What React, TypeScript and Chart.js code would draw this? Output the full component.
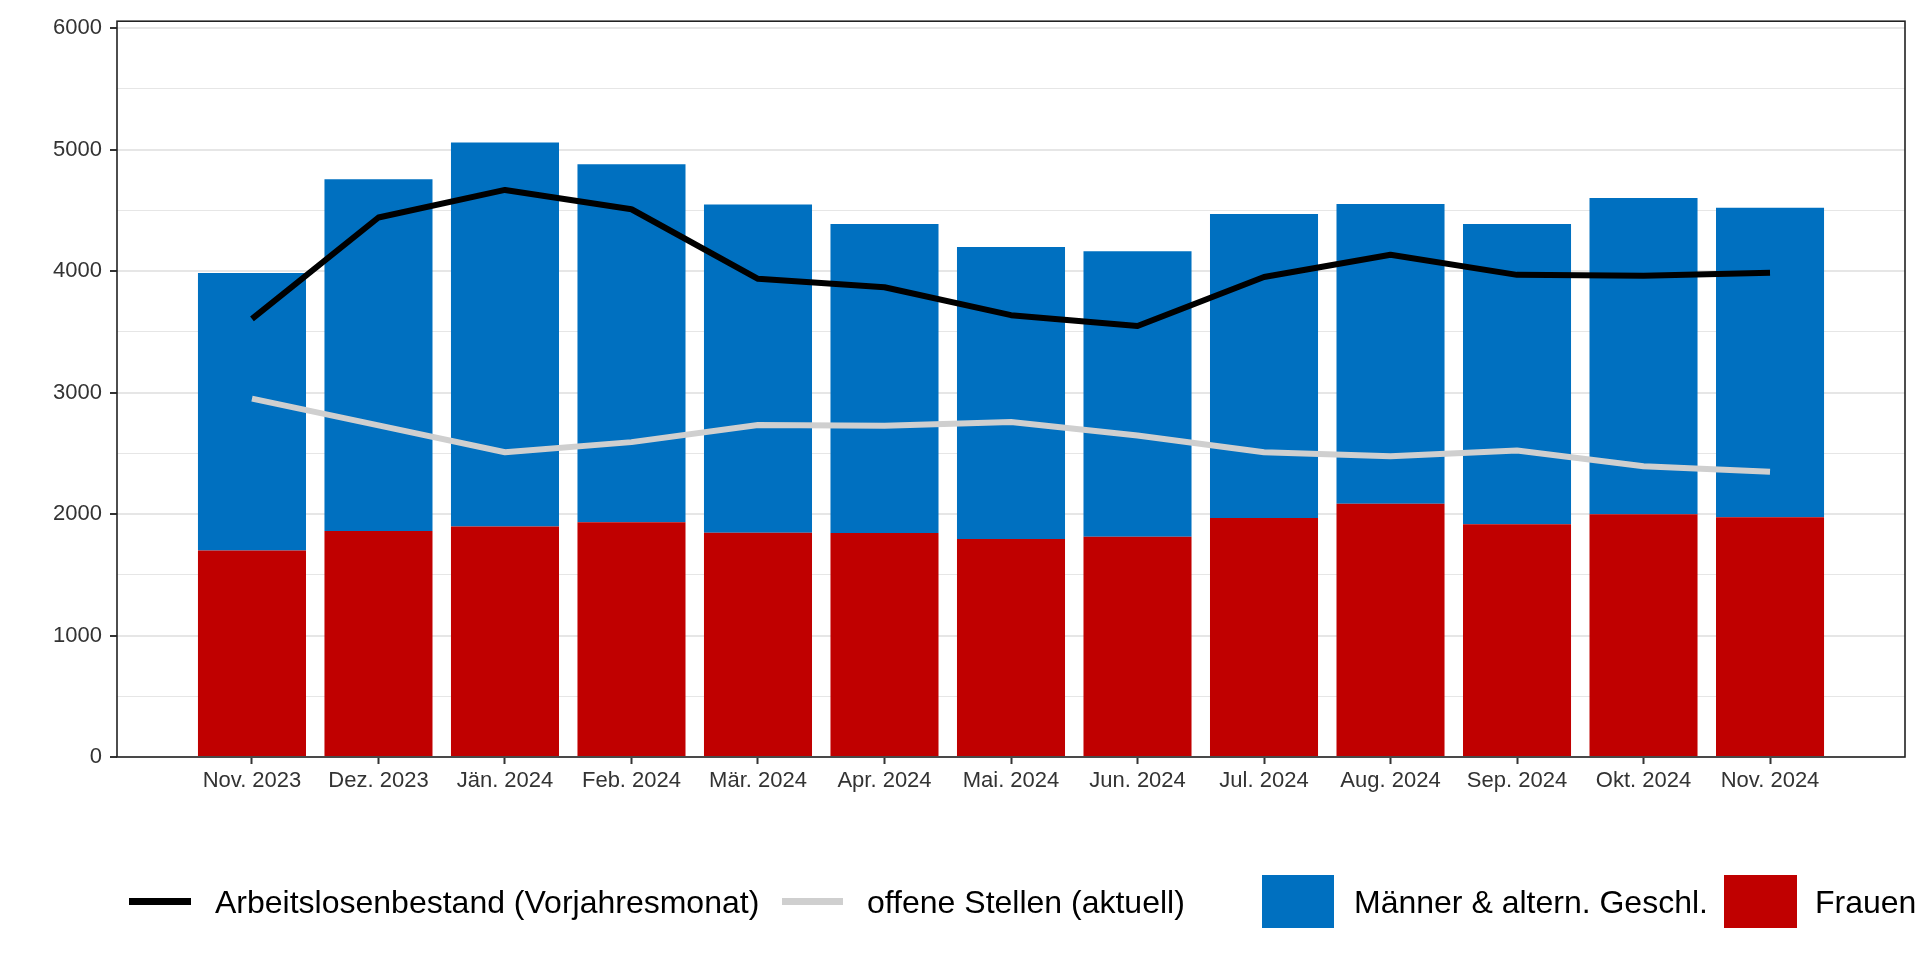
import React, { useEffect, useRef } from "react";
import { Chart, registerables } from "chart.js";

Chart.register(...registerables);

const months = [
  "Nov. 2023", "Dez. 2023", "Jän. 2024", "Feb. 2024", "Mär. 2024", "Apr. 2024", "Mai. 2024",
  "Jun. 2024", "Jul. 2024", "Aug. 2024", "Sep. 2024", "Okt. 2024", "Nov. 2024",
];
const frauen = [1700, 1860, 1897, 1933, 1845, 1844, 1795, 1814, 1968, 2084, 1916, 1998, 1974];
const maenner = [2285, 2895, 3161, 2947, 2703, 2544, 2403, 2349, 2501, 2469, 2472, 2604, 2547];
const arbeitslosenVorjahr = [3606, 4441, 4668, 4509, 3936, 3867, 3637, 3548, 3951, 4134, 3969, 3962, 3987];
const offeneStellen = [2950, 2730, 2509, 2592, 2733, 2727, 2758, 2646, 2508, 2475, 2523, 2394, 2348];
const yGridValues = [0, 500, 1000, 1500, 2000, 2500, 3000, 3500, 4000, 4500, 5000, 5500, 6000];
const yLabelValues = [0, 1000, 2000, 3000, 4000, 5000, 6000];

const FONT = '"Liberation Sans", Arial, Helvetica, sans-serif';

const legendPlugin = {
  id: "customLegend",
  afterDraw(chart: any) {
    const ctx = chart.ctx as CanvasRenderingContext2D;
    const ds = chart.data.datasets;
    const items = [
      { i: 0, kind: "line", x0: 129, x1: 191, tx: 215 },
      { i: 1, kind: "line", x0: 782, x1: 843, tx: 867 },
      { i: 3, kind: "box", x0: 1262, x1: 1334, tx: 1354 },
      { i: 2, kind: "box", x0: 1724, x1: 1797, tx: 1815 },
    ];
    ctx.save();
    ctx.font = `32px ${FONT}`;
    ctx.textBaseline = "alphabetic";
    ctx.textAlign = "left";
    for (const it of items) {
      const d = ds[it.i];
      if (it.kind === "line") {
        ctx.strokeStyle = d.borderColor;
        ctx.lineWidth = 7;
        ctx.lineCap = "butt";
        ctx.beginPath();
        ctx.moveTo(it.x0, 901.5);
        ctx.lineTo(it.x1, 901.5);
        ctx.stroke();
      } else {
        ctx.fillStyle = d.backgroundColor;
        ctx.fillRect(it.x0, 875, it.x1 - it.x0, 53);
      }
      ctx.fillStyle = "#000";
      ctx.fillText(d.label, it.tx, 913);
    }
    ctx.restore();
  },
};

const borderPlugin = {
  id: "panelBorder",
  afterDatasetsDraw(chart: any) {
    const { ctx, chartArea } = chart;
    ctx.save();
    ctx.strokeStyle = "#222";
    ctx.lineWidth = 1.6;
    ctx.strokeRect(chartArea.left, chartArea.top, chartArea.right - chartArea.left, chartArea.bottom - chartArea.top);
    ctx.restore();
  },
};

export default function App() {
  const ref = useRef<HTMLCanvasElement | null>(null);

  useEffect(() => {
    if (!ref.current) return;
    const chart = new Chart(ref.current, {
      type: "bar",
      data: {
        datasets: [
          {
            type: "line",
            label: "Arbeitslosenbestand (Vorjahresmonat)",
            data: months.map((_, i) => ({ x: i, y: arbeitslosenVorjahr[i] })),
            borderColor: "#000000",
            backgroundColor: "#000000",
            borderWidth: 6,
            pointRadius: 0,
            borderJoinStyle: "round",
            borderCapStyle: "butt",
            tension: 0,
            stack: "l1",
            order: 0,
          } as any,
          {
            type: "line",
            label: "offene Stellen (aktuell)",
            data: months.map((_, i) => ({ x: i, y: offeneStellen[i] })),
            borderColor: "#cfcfcf",
            backgroundColor: "#cfcfcf",
            borderWidth: 6,
            pointRadius: 0,
            borderJoinStyle: "round",
            borderCapStyle: "butt",
            tension: 0,
            stack: "l2",
            order: 0,
          } as any,
          {
            type: "bar",
            label: "Frauen",
            data: months.map((_, i) => ({ x: i, y: frauen[i] })),
            backgroundColor: "#C00000",
            borderWidth: 0,
            stack: "bars",
            order: 1,
            barPercentage: 0.854,
            categoryPercentage: 1,
          } as any,
          {
            type: "bar",
            label: "Männer & altern. Geschl.",
            data: months.map((_, i) => ({ x: i, y: maenner[i] })),
            backgroundColor: "#0070C0",
            borderWidth: 0,
            stack: "bars",
            order: 1,
            barPercentage: 0.854,
            categoryPercentage: 1,
          } as any,
        ],
      },
      options: {
        responsive: false,
        animation: false,
        devicePixelRatio: 1,
        layout: { padding: { top: 15, right: 15, left: 0, bottom: 0 } },
        plugins: {
          legend: { display: false },
          tooltip: { enabled: false },
          title: { display: false },
        },
        scales: {
          x: {
            type: "linear",
            min: -1.067,
            max: 13.067,
            stacked: true,
            offset: false,
            afterBuildTicks: (s: any) => {
              s.ticks = months.map((_, i) => ({ value: i }));
            },
            afterFit: (s: any) => {
              s.height = 203;
            },
            ticks: {
              callback: (v: any) => months[v] ?? "",
              autoSkip: false,
              maxRotation: 0,
              minRotation: 0,
              font: { family: FONT, size: 22 },
              color: "#333",
              padding: 4,
            },
            grid: {
              offset: false,
              drawOnChartArea: false,
              drawTicks: true,
              tickLength: 7,
              tickColor: "#333",
              tickWidth: 2,
            },
            border: { display: false },
          } as any,
          y: {
            type: "linear",
            min: 0,
            max: 6057,
            stacked: true,
            afterBuildTicks: (s: any) => {
              s.ticks = yGridValues.map((v) => ({ value: v }));
            },
            afterFit: (s: any) => {
              s.width = 117;
            },
            ticks: {
              callback: (v: any) => (yLabelValues.includes(v) ? String(v) : ""),
              autoSkip: false,
              font: { family: FONT, size: 22 },
              color: "#333",
              padding: 8,
            },
            grid: {
              color: "#e6e6e6",
              lineWidth: (c: any) => (c.tick && c.tick.value % 1000 === 0 ? 2 : 1),
              tickColor: (c: any) => (c.tick && c.tick.value % 1000 === 0 ? "#333" : "rgba(0,0,0,0)"),
              tickLength: 7,
              tickWidth: 2,
            },
            border: { display: false },
          } as any,
        },
      },
      plugins: [borderPlugin, legendPlugin],
    });
    return () => chart.destroy();
  }, []);

  return (
    <div style={{ position: "fixed", left: 0, top: 0, width: 1920, height: 960, background: "#fff" }}>
      <canvas ref={ref} width={1920} height={960} style={{ display: "block" }} />
    </div>
  );
}
